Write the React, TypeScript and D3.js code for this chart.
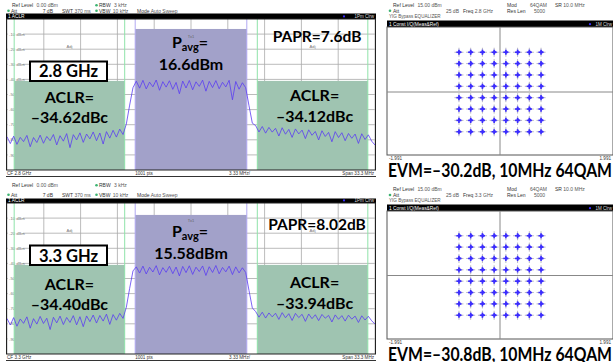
import React from "react";
import * as d3 from "d3";

const W = 613;
const H = 362;

// ACLR sweeps, dBm, decimated from the 1001 pt traces (CF ± 16.65 MHz)
const spanMHz = 33.3;
const trace28 = [
  -78.0, -82.5, -77.6, -83.0, -78.4, -81.2, -77.1, -84.6, -78.5, -81.8, -76.9, -82.3, -77.8, -80.6, -76.5, -83.4, -77.3, -80.9,
  -75.9, -85.2, -76.6, -80.1, -75.4, -81.7, -76.2, -79.4, -74.8, -80.6, -75.5, -82.8, -74.6, -78.9, -73.7, -78.2, -72.9, -76.5,
  -69.5, -57.0, -45.5,
  -41.2, -45.8, -40.6, -46.3, -41.8, -44.9, -40.4, -47.2, -41.5, -45.1, -40.9, -46.6, -42.0, -49.5, -41.1, -45.7, -40.7,
  -46.9, -41.6, -44.6, -40.5, -47.8, -41.3, -45.4, -40.8, -46.2, -41.9, -45.0, -40.6, -53.5, -41.4, -46.5, -42.2,
  -45.5, -57.5, -69.0,
  -70.6, -74.8, -71.2, -75.6, -71.8, -74.9, -72.4, -77.5, -72.0, -76.3, -73.1, -78.4, -72.8, -76.1, -73.6, -79.2, -73.4,
  -77.0, -74.5, -80.1, -74.0, -77.8, -75.1, -81.3, -74.6, -78.5, -75.3, -80.6, -75.8, -79.0, -76.2, -82.4, -76.0, -79.8,
  -76.7, -80.9, -83.5,
];
const trace33 = [
  -76.5, -80.8, -75.9, -81.6, -76.8, -79.7, -75.4, -82.9, -76.6, -80.2, -75.1, -79.8, -76.3, -83.8, -75.7, -79.4, -74.9, -80.5,
  -75.8, -79.1, -74.6, -80.7, -75.3, -81.9, -74.8, -78.6, -74.2, -79.5, -74.5, -78.2, -73.6, -80.4, -73.9, -77.6, -73.1, -76.4,
  -69.0, -56.5, -45.0,
  -42.3, -46.4, -41.8, -47.0, -42.6, -45.7, -41.5, -47.6, -42.8, -45.9, -41.9, -46.8, -42.4, -48.3, -42.0, -46.1, -41.6,
  -47.3, -42.5, -45.4, -41.7, -48.0, -42.2, -46.0, -41.4, -46.9, -42.7, -45.6, -41.8, -47.4, -42.3, -46.3, -42.9,
  -46.0, -58.0, -69.5,
  -71.9, -75.6, -72.3, -76.2, -72.8, -75.4, -73.0, -77.1, -72.6, -76.0, -73.3, -77.8, -73.1, -75.9, -73.7, -78.4, -73.5,
  -76.6, -74.0, -77.9, -73.8, -76.3, -74.4, -78.8, -74.1, -77.0, -74.6, -78.2, -74.3, -76.9, -74.9, -79.1, -74.7, -77.5,
  -75.0, -78.0, -80.2,
];
const traces = [trace28, trace33];

// channel setup (MHz)
const txBandwidth = 10.1;
const adjBandwidth = 10;
const adjSpacing = 11;
const txBarLevels = [-6.6, -7.9];
const adjBarLevels = [-41, -41];

// annotations
const carrierFreqs = ["2.8 GHz", "3.3 GHz"];
const pavgValues = ["16.6dBm", "15.58dBm"];
const paprValues = ["PAPR=7.6dB", "PAPR=8.02dB"];
const aclrLower = ["–34.62dBc", "–34.40dBc"];
const aclrUpper = ["–34.12dBc", "–33.94dBc"];
const evmValues = ["EVM=–30.2dB, 10MHz 64QAM", "EVM=–30.8dB, 10MHz 64QAM"];

// 64QAM
const qamLevels = [-7, -5, -3, -1, 1, 3, 5, 7];
const qamNorm = 1 / Math.sqrt(42);
const constLimit = 1.991;

// screen geometry for the two screenshots
const specHeaderY = [[7, 12.5], [187, 196.5]];
const specBarY = [[13.5, 19], [198.5, 203]];
const plotY = [[19, 170], [203, 354]];
const labelShift = [0, 3];
const constHeaderY = [[7, 12.5, 17.5], [191, 196.7, 202.4]];
const constBarY = [[20.5, 27], [204.5, 211]];
const constPlotY = [[27, 155], [211, 339]];
const constCenterY = [92, 275.5];

const bigFont = "Lato, 'Open Sans', sans-serif";
const traceColor = "#5a3cf2";
const green = "#3cb371";

function Spectrum({ k }: { k: number }) {
  const [top, bottom] = plotY[k];
  const left = 7;
  const right = 375;
  const x = d3.scaleLinear().domain([-spanMHz / 2, spanMHz / 2]).range([left, right]);
  const y = d3.scaleLinear().domain([-100, 0]).range([bottom, top]);
  const trace = traces[k];
  const step = spanMHz / (trace.length - 1);
  const line = d3
    .line<number>()
    .x((_, i) => x(-spanMHz / 2 + i * step))
    .y((d) => y(d));
  const gridF = d3.range(11).map((i) => -spanMHz / 2 + (i * spanMHz) / 10);
  const gridL = d3.range(-90, 0, 10);
  const adj = [-adjSpacing, adjSpacing];
  const [h1, h2] = specHeaderY[k];
  const [b1, b2] = specBarY[k];
  const s = labelShift[k];
  const small = { fontSize: 5, fill: "#333" };

  return (
    <g>
      {/* instrument header */}
      <text x={12} y={h1} {...small}>Ref Level <tspan dx={2} fill="#555">0.00 dBm</tspan></text>
      <circle cx={8.5} cy={h2 - 1.7} r={1.3} fill={green} />
      <text x={11} y={h2} {...small}>Att</text>
      <text x={53} y={h2} textAnchor="end" {...small}>7 dB</text>
      <text x={62} y={h2} {...small}>SWT <tspan fill="#555">370 ms</tspan></text>
      <circle cx={96.5} cy={h1 - 1.7} r={1.3} fill={green} />
      <text x={99} y={h1} {...small}>RBW <tspan dx={2} fill="#555">3 kHz</tspan></text>
      <circle cx={96.5} cy={h2 - 1.7} r={1.3} fill={green} />
      <text x={99} y={h2} {...small}>VBW <tspan dx={1} fill="#555">10 kHz</tspan></text>
      <text x={137} y={h2} {...small}>Mode <tspan fill="#555">Auto Sweep</tspan></text>

      <rect x={6} y={b1} width={370} height={b2 - b1} fill="#000" />
      <text x={8} y={b2 - 1.2} fontSize={4.8} fill="#fff">1 ACLR</text>
      <circle cx={344} cy={b2 - 2.6} r={1.1} fill="#3a2cff" />
      <text x={374} y={b2 - 1.2} fontSize={4.5} fill="#ddd" textAnchor="end">1Pm Clrw</text>

      {/* grid */}
      <rect x={left} y={top} width={right - left} height={bottom - top} fill="#fff" />
      {gridF.map((f, i) => (
        <line key={"f" + i} x1={x(f)} x2={x(f)} y1={top} y2={bottom} stroke="#a9a9a9" strokeWidth={0.8} />
      ))}
      {gridL.map((l) => (
        <g key={"l" + l}>
          <line x1={left} x2={right} y1={y(l)} y2={y(l)} stroke="#a9a9a9" strokeWidth={0.8} />
          <rect x={left + 1} y={y(l) - 2.5} width={l > -50 ? 15 : 7} height={5} fill="#fff" />
          <text x={left + 2} y={y(l) + 1.6} fontSize={4.2} fill="#777">
            {l > -50 ? `${l} dBm` : `${l}`}
          </text>
        </g>
      ))}

      {/* channel bars */}
      {adj.map((c) => (
        <rect
          key={"adj" + c}
          x={x(c - adjBandwidth / 2)}
          width={x(c + adjBandwidth / 2) - x(c - adjBandwidth / 2)}
          y={y(adjBarLevels[k])}
          height={bottom - y(adjBarLevels[k])}
          fill="#9fc4b1"
        />
      ))}
      <rect
        x={x(-txBandwidth / 2)}
        width={x(txBandwidth / 2) - x(-txBandwidth / 2)}
        y={y(txBarLevels[k])}
        height={bottom - y(txBarLevels[k])}
        fill="#a2a1c9"
      />
      {adj.flatMap((c) => [c - adjBandwidth / 2, c + adjBandwidth / 2]).map((f) => (
        <line key={"ae" + f} x1={x(f)} x2={x(f)} y1={top} y2={bottom} stroke="#8fe3a9" strokeWidth={1} />
      ))}
      {[-txBandwidth / 2, txBandwidth / 2].map((f) => (
        <line key={"te" + f} x1={x(f)} x2={x(f)} y1={top} y2={bottom} stroke="#b1a9f2" strokeWidth={1} />
      ))}
      <text x={x(-adjSpacing)} y={top + 29} fontSize={4.2} fill="#777" textAnchor="middle">Adj</text>
      <text x={x(adjSpacing)} y={top + 29} fontSize={4.2} fill="#777" textAnchor="middle">Adj</text>
      <text x={x(0)} y={top + 19} fontSize={4} fill="#666" textAnchor="middle">Tx1</text>

      {/* trace */}
      <path d={line(trace) ?? ""} fill="none" stroke={traceColor} strokeWidth={0.8} strokeLinejoin="round" />

      {/* frame */}
      <rect x={left - 0.5} y={top} width={right - left + 1} height={bottom - top} fill="none" stroke="#222" strokeWidth={1} />
      <text x={left} y={bottom + 4.6} fontSize={4.6} fill="#333">CF {carrierFreqs[k]}</text>
      <text x={x(-txBandwidth / 2)} y={bottom + 4.6} fontSize={4.6} fill="#333">1001 pts</text>
      <text x={250} y={bottom + 4.6} fontSize={4.6} fill="#333" textAnchor="end">3.33 MHz/</text>
      <text x={right - 1} y={bottom + 4.6} fontSize={4.6} fill="#333" textAnchor="end">Span 33.3 MHz</text>
      <line x1={left - 1} x2={right + 1} y1={bottom + 6.5} y2={bottom + 6.5} stroke="#333" strokeWidth={1} />

      {/* annotations */}
      <rect x={30} y={top + 42.5} width={77} height={19.5} fill="#fff" stroke="#000" strokeWidth={2} />
      <text x={68.5} y={top + 57.5 + s * 0.4} fontFamily={bigFont} fontWeight={700} fontSize={16.5} textAnchor="middle">
        {carrierFreqs[k]}
      </text>
      <text x={x(-adjSpacing)} y={top + 83.5 + s} fontFamily={bigFont} fontWeight={700} fontSize={16} textAnchor="middle">ACLR=</text>
      <text x={x(-adjSpacing)} y={top + 104 + s} fontFamily={bigFont} fontWeight={700} fontSize={16} textAnchor="middle">
        {aclrLower[k]}
      </text>
      <text x={x(adjSpacing) + 2} y={top + 82 + s} fontFamily={bigFont} fontWeight={700} fontSize={16} textAnchor="middle">ACLR=</text>
      <text x={x(adjSpacing) + 2} y={top + 102.5 + s} fontFamily={bigFont} fontWeight={700} fontSize={16} textAnchor="middle">
        {aclrUpper[k]}
      </text>
      <text x={x(0) - 1} y={top + 29 + s * 1.5} fontFamily={bigFont} fontWeight={700} fontSize={16} textAnchor="middle">
        P<tspan fontSize={11} dy={3}>avg</tspan><tspan dy={-3}>=</tspan>
      </text>
      <text x={x(0)} y={top + 51 + s * 1.6} fontFamily={bigFont} fontWeight={700} fontSize={16} textAnchor="middle">
        {pavgValues[k]}
      </text>
      <text x={317} y={top + 22.5 + s * 1.5} fontFamily={bigFont} fontWeight={700} fontSize={15.5} textAnchor="middle">
        {paprValues[k]}
      </text>
    </g>
  );
}

function Constellation({ k }: { k: number }) {
  const left = 387;
  const right = 613;
  const [top, bottom] = constPlotY[k];
  const cy = constCenterY[k];
  const pxPerUnit = 38;
  const x = d3.scaleLinear().domain([-constLimit, constLimit]).range([500 - constLimit * pxPerUnit, 500 + constLimit * pxPerUnit]);
  const y = d3.scaleLinear().domain([-constLimit, constLimit]).range([cy + constLimit * (pxPerUnit - 1.2), cy - constLimit * (pxPerUnit - 1.2)]);
  const pts = qamLevels.flatMap((i) => qamLevels.map((q) => [i * qamNorm, q * qamNorm]));
  const [r1, r2, r3] = constHeaderY[k];
  const [b1, b2] = constBarY[k];
  const small = { fontSize: 5, fill: "#333" };
  const blue = "#3b2cff";

  return (
    <g>
      <text x={393} y={r1} {...small}>Ref Level <tspan dx={2} fill="#555">15.00 dBm</tspan></text>
      <text x={507} y={r1} {...small}>Mod</text>
      <text x={530} y={r1} fontSize={5} fill="#555">64QAM</text>
      <text x={555} y={r1} {...small}>SR <tspan fill="#555">10.0 MHz</tspan></text>
      <circle cx={390} cy={r2 - 1.7} r={1.3} fill={green} />
      <text x={393} y={r2} {...small}>Att</text>
      <text x={459} y={r2} fontSize={5} fill="#555" textAnchor="end">25 dB</text>
      <text x={463} y={r2} {...small}>Freq <tspan fill="#555">{carrierFreqs[k]}</tspan></text>
      <text x={507} y={r2} {...small}>Res Len</text>
      <text x={534} y={r2} fontSize={5} fill="#555">5000</text>
      <text x={389} y={r3} fontSize={4.6} fill="#555">YIG Bypass EQUALIZER</text>

      <rect x={left} y={b1} width={right - left} height={b2 - b1} fill="#000" />
      <text x={389} y={b2 - 1.3} fontSize={4.8} fill="#fff">1 Const I/Q(Meas&amp;Ref)</text>
      <circle cx={590} cy={b2 - 2.8} r={1.1} fill={blue} />
      <text x={612} y={b2 - 1.3} fontSize={4.5} fill="#ddd" textAnchor="end">1M Clrw</text>

      <rect x={left} y={top} width={right - left} height={bottom - top} fill="#fff" stroke="#555" strokeWidth={1} />
      <line x1={x(0)} x2={x(0)} y1={top} y2={bottom} stroke="#888" strokeWidth={1} />
      <line x1={left} x2={right} y1={y(0)} y2={y(0)} stroke="#888" strokeWidth={1} />

      {pts.map(([i, q], n) => {
        const px = x(i);
        const py = y(q);
        return (
          <g key={n}>
            <line x1={px - 4.5} x2={px + 4.5} y1={py} y2={py} stroke="#b4b4c4" strokeWidth={1} />
            <line x1={px} x2={px} y1={py - 4.5} y2={py + 4.5} stroke="#b4b4c4" strokeWidth={1} />
            <line x1={px - 2.6} x2={px + 2.6} y1={py} y2={py} stroke={blue} strokeWidth={1.6} />
            <line x1={px} x2={px} y1={py - 2.6} y2={py + 2.6} stroke={blue} strokeWidth={1.6} />
            <circle cx={px + 0.4} cy={py - 0.3} r={1.5} fill={blue} />
          </g>
        );
      })}

      <text x={389} y={bottom + 4.5} fontSize={4.6} fill="#333">-1.991</text>
      <text x={611} y={bottom + 4.5} fontSize={4.6} fill="#333" textAnchor="end">1.991</text>

      <text
        x={388}
        y={bottom + 21.5}
        fontFamily={bigFont}
        fontWeight={700}
        fontSize={18}
        textLength={224}
        lengthAdjust="spacingAndGlyphs"
      >
        {evmValues[k]}
      </text>
    </g>
  );
}

export default function App() {
  return (
    <svg
      width={W}
      height={H}
      style={{ position: "absolute", left: 0, top: 0, background: "#fff" }}
      fontFamily="'Liberation Sans', Arial, sans-serif"
    >
      <rect width={W} height={H} fill="#fff" />
      {[0, 1].map((k) => (
        <Spectrum key={"s" + k} k={k} />
      ))}
      {[0, 1].map((k) => (
        <Constellation key={"c" + k} k={k} />
      ))}
    </svg>
  );
}
